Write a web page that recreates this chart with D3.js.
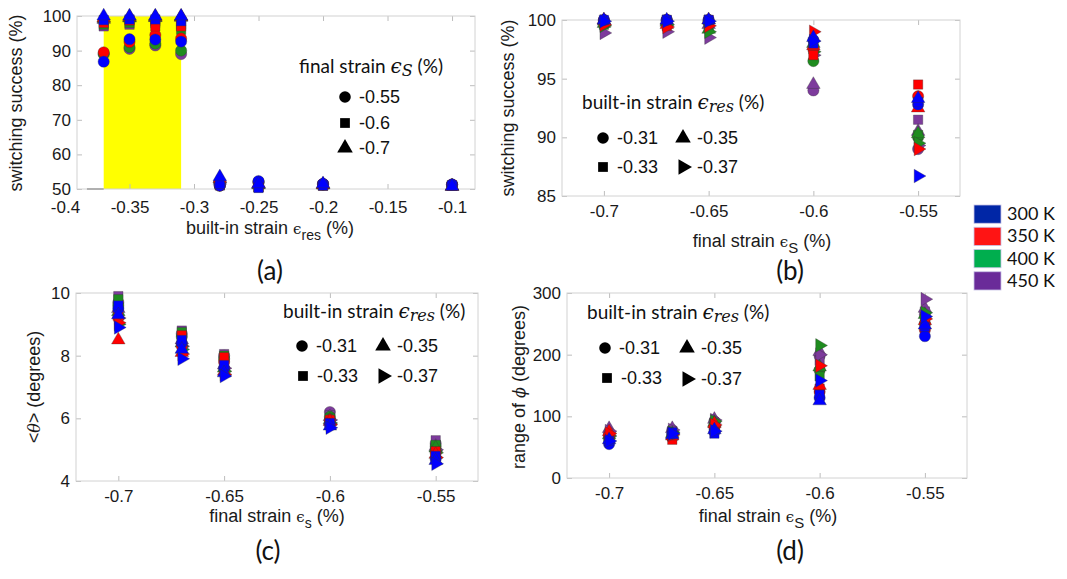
<!DOCTYPE html>
<html>
<head>
<meta charset="utf-8">
<script src="https://cdn.jsdelivr.net/npm/d3@7"></script>
<style>
  body { margin: 0; background: #fff; }
  svg { display: block; }
</style>
</head>
<body>
<div class="figure"></div>
<script>
// temperatures (colour) — drawn 450 K first so 300 K ends up on top
const tempLabels = ["300 K", "350 K", "400 K", "450 K"];
const tempColors = ["#0000ff", "#ff0000", "#1f8c1f", "#7d3b9c"];
const swatchColors = ["#0026a6", "#ff1414", "#00ae4e", "#6a2b99"];

// panel (a): x = built-in strain, one marker shape per final strain
const aBuiltIn = [-0.37, -0.35, -0.33, -0.31, -0.28, -0.25, -0.2, -0.1];
const aFinalLabels = ["-0.55", "-0.6", "-0.7"];
const aWindow = [-0.37, -0.31];
const aBaseLine = [-0.383, -0.37];
// rows: 300, 350, 400, 450 K
const aCircle = [
  [86.8, 93.3, 93.2, 92.6, 51.0, 52.3, 51.5, 51.3],
  [89.5, 92.5, 94.5, 93.5, 51.0, 52.0, 51.5, 51.3],
  [89.0, 91.0, 92.0, 90.0, 51.0, 52.0, 51.3, 51.2],
  [89.0, 90.5, 91.5, 89.0, 51.0, 52.0, 51.3, 51.2]
];
const aSquare = [
  [98.8, 99.0, 99.0, 98.5, 51.5, 50.3, 51.0, 51.0],
  [98.0, 98.7, 97.0, 97.0, 51.3, 50.5, 51.0, 51.0],
  [97.5, 98.0, 98.0, 96.0, 51.2, 50.5, 51.0, 51.0],
  [97.0, 97.5, 98.5, 97.5, 51.0, 50.5, 51.0, 51.0]
];
const aTriangle = [
  [100, 100, 100, 100, 53.5, 51.5, 51.5, 50.8],
  [99.5, 99.8, 99.8, 99.8, 53.0, 51.5, 51.3, 50.8],
  [99.3, 99.5, 99.6, 99.7, 53.0, 51.3, 51.2, 50.8],
  [99.0, 99.4, 99.5, 99.6, 52.5, 51.2, 51.2, 50.7]
];

// panels (b)-(d): x = final strain, one marker shape per built-in strain
const finalStrains = [-0.7, -0.67, -0.65, -0.6, -0.55];
const builtInLabels = ["-0.31", "-0.33", "-0.35", "-0.37"];

// (b) switching success (%)
const bCircle = [
  [100, 100, 100, 98.3, 92.8],
  [100, 100, 100, 97.5, 93.5],
  [99.8, 99.9, 99.8, 96.5, 90.0],
  [99.9, 100, 99.9, 94.0, 89.0]
];
const bSquare = [
  [100, 100, 100, 98.0, 93.0],
  [99.8, 99.5, 100, 97.0, 94.5],
  [99.6, 99.8, 99.5, 97.5, 90.2],
  [99.8, 100, 99.8, 97.8, 91.5]
];
const bTriangle = [
  [100, 100, 100, 98.5, 93.3],
  [100, 99.6, 100, 97.8, 92.5],
  [99.7, 99.8, 99.2, 98.0, 90.3],
  [99.9, 99.9, 99.6, 94.5, 90.5]
];
const bRight = [
  [99.9, 99.9, 99.9, 98.2, 86.7],
  [99.6, 99.4, 99.5, 99.0, 89.0],
  [99.5, 99.6, 99.0, 97.3, 89.5],
  [98.9, 99.0, 98.5, 97.0, 89.3]
];

// (c) <theta> (degrees)
const cCircle = [
  [9.5, 8.4, 7.6, 5.8, 4.7],
  [9.2, 8.3, 7.8, 5.95, 4.9],
  [9.6, 8.6, 7.9, 6.05, 5.1],
  [9.7, 8.7, 8.0, 6.2, 5.2]
];
const cSquare = [
  [9.6, 8.5, 7.7, 5.85, 4.8],
  [9.4, 8.65, 7.95, 5.95, 4.95],
  [9.8, 8.75, 8.0, 6.0, 5.15],
  [9.9, 8.8, 8.05, 6.1, 5.3]
];
const cTriangle = [
  [9.3, 8.2, 7.45, 5.75, 4.65],
  [8.5, 8.1, 7.5, 5.9, 4.85],
  [9.4, 8.4, 7.6, 5.95, 5.05],
  [9.5, 8.5, 7.7, 6.05, 5.1]
];
const cRight = [
  [8.9, 7.9, 7.35, 5.7, 4.55],
  [9.05, 8.05, 7.4, 5.8, 4.75],
  [9.0, 8.2, 7.5, 5.85, 4.9],
  [9.2, 8.3, 7.6, 5.95, 5.0]
];

// (d) range of phi (degrees)
const dCircle = [
  [55, 72, 75, 130, 230],
  [68, 65, 82, 140, 240],
  [62, 70, 85, 175, 250],
  [72, 78, 92, 198, 265]
];
const dSquare = [
  [60, 74, 72, 135, 245],
  [62, 62, 80, 145, 248],
  [65, 68, 88, 165, 258],
  [70, 76, 90, 190, 270]
];
const dTriangle = [
  [62, 70, 78, 125, 248],
  [75, 68, 88, 150, 255],
  [70, 72, 90, 180, 265],
  [80, 80, 95, 205, 275]
];
const dRight = [
  [60, 72, 76, 158, 262],
  [72, 70, 86, 182, 258],
  [68, 74, 92, 215, 268],
  [76, 78, 94, 200, 290]
];

const aTicksX = [-0.4, -0.35, -0.3, -0.25, -0.2, -0.15, -0.1];
const aTicksY = [50, 60, 70, 80, 90, 100];
const finalTicks = [-0.7, -0.65, -0.6, -0.55];
const bTicksY = [85, 90, 95, 100];
const cTicksY = [4, 6, 8, 10];
const dTicksY = [0, 100, 200, 300];

const sansFont = "'Liberation Sans', Arial, sans-serif";
const calFont = "Lato, 'Open Sans', sans-serif";
const mathFont = "'DejaVu Serif', 'Liberation Serif', serif";
const boxColor = "#d2d2d2";

const svg = d3.select(".figure").append("svg")
    .attr("width", 1067)
    .attr("height", 579);

const symbolPath = {
  circle: d3.symbol(d3.symbolCircle, 100)(),
  square: d3.symbol(d3.symbolSquare, 88)(),
  triangle: d3.symbol(d3.symbolTriangle, 80)(),
  right: d3.symbol(d3.symbolTriangle, 80)()
};
const rot = shape => shape === "right" ? " rotate(90)" : "";

function makePanel(p) {
  const x = d3.scaleLinear().domain(p.xDomain).range([p.left, p.right]);
  const y = d3.scaleLinear().domain(p.yDomain).range([p.bottom, p.top]);
  const g = svg.append("g");
  const back = g.append("g");
  const inside = v => x(v) >= p.left - 0.5 && x(v) <= p.right + 0.5;

  const styleAxis = sel => {
    sel.select(".domain").remove();
    sel.selectAll(".tick line").attr("stroke", "#bdbdbd");
    sel.selectAll("text")
        .attr("font-family", sansFont)
        .attr("font-size", 17)
        .attr("fill", "#1a1a1a");
  };
  const hideOutside = sel => sel.selectAll(".tick line")
      .attr("stroke-opacity", d => inside(d) ? 1 : 0);

  g.append("g")
      .attr("transform", `translate(0,${p.bottom})`)
      .call(d3.axisBottom(x).tickValues(p.xTicks).tickSize(-5).tickPadding(p.xPad || 9)
          .tickFormat(d => String(d)))
      .call(styleAxis)
      .call(hideOutside);
  g.append("g")
      .attr("transform", `translate(0,${p.top})`)
      .call(d3.axisTop(x).tickValues(p.xTicks).tickSize(-5).tickFormat(""))
      .call(styleAxis)
      .call(hideOutside);
  g.append("g")
      .attr("transform", `translate(${p.left},0)`)
      .call(d3.axisLeft(y).tickValues(p.yTicks).tickSize(-5).tickPadding(6)
          .tickFormat(d => String(d)))
      .call(styleAxis);
  g.append("g")
      .attr("transform", `translate(${p.right},0)`)
      .call(d3.axisRight(y).tickValues(p.yTicks).tickSize(-5).tickFormat(""))
      .call(styleAxis);

  g.append("rect")
      .attr("x", p.left).attr("y", p.top)
      .attr("width", p.right - p.left).attr("height", p.bottom - p.top)
      .attr("fill", "none")
      .attr("stroke", boxColor);

  const marks = g.append("g");
  return { g, back, marks, x, y };
}

// series: {shape, rows}; rows indexed by temperature
function plotPoints(panel, xs, series) {
  const pts = [];
  [3, 2, 1, 0].forEach(t => {
    series.forEach(s => {
      s.rows[t].forEach((v, i) => pts.push({ x: xs[i], v, t, shape: s.shape }));
    });
  });
  panel.marks.selectAll("path.pt")
      .data(pts).enter()
      .append("path")
      .attr("class", "pt")
      .attr("d", d => symbolPath[d.shape])
      .attr("transform", d => `translate(${panel.x(d.x)},${panel.y(d.v)})${rot(d.shape)}`)
      .attr("fill", d => tempColors[d.t])
      .attr("stroke", "#333")
      .attr("stroke-opacity", 0.55)
      .attr("stroke-width", 0.6);
}

// label helpers
function axisLabel(x, y, parts, rotate) {
  const t = svg.append("text")
      .attr("transform", `translate(${x},${y})${rotate ? " rotate(-90)" : ""}`)
      .attr("text-anchor", "middle")
      .attr("font-family", sansFont)
      .attr("font-size", 18)
      .attr("fill", "#1a1a1a");
  parts.forEach(pt => {
    const s = t.append("tspan").text(pt.text);
    if (pt.font) s.attr("font-family", pt.font);
    if (pt.size) s.attr("font-size", pt.size);
    if (pt.dy) s.attr("dy", pt.dy);
    if (pt.italic) s.attr("font-style", "italic");
  });
  return t;
}

function legendTitle(x, y, sub) {
  const t = svg.append("text")
      .attr("x", x).attr("y", y)
      .attr("font-family", calFont)
      .attr("font-size", 19)
      .attr("fill", "#111");
  t.append("tspan").text(sub.lead);
  t.append("tspan").text("\u03F5").attr("font-family", mathFont).attr("font-style", "italic")
      .attr("font-size", 20);
  t.append("tspan").text(sub.text).attr("font-family", mathFont).attr("font-style", "italic")
      .attr("font-size", 16).attr("dy", 3);
  t.append("tspan").text(" (%)").attr("dy", -3);
}

function shapeLegend(entries) {
  entries.forEach(e => {
    svg.append("path")
        .attr("d", d3.symbol(e.shape === "circle" ? d3.symbolCircle :
            e.shape === "square" ? d3.symbolSquare : d3.symbolTriangle, e.shape === "square" ? 95 : 105)())
        .attr("transform", `translate(${e.x},${e.y})${rot(e.shape)}`)
        .attr("fill", "#000");
    svg.append("text")
        .attr("x", e.x + 14).attr("y", e.y + 6)
        .attr("font-family", sansFont)
        .attr("font-size", 18)
        .attr("fill", "#111")
        .text(e.label);
  });
}

function panelTag(x, y, s) {
  svg.append("text")
      .attr("x", x).attr("y", y)
      .attr("text-anchor", "middle")
      .attr("font-family", calFont)
      .attr("font-size", 26)
      .attr("fill", "#111")
      .text(s);
}

// ---------- (a)
const pa = makePanel({
  left: 77, right: 475, top: 16, bottom: 189,
  xDomain: [-0.3907, -0.0822], yDomain: [50, 100],
  xTicks: aTicksX, yTicks: aTicksY, xPad: 12
});
pa.back.append("rect")
    .attr("x", pa.x(aWindow[0]))
    .attr("y", pa.y(100))
    .attr("width", pa.x(aWindow[1]) - pa.x(aWindow[0]))
    .attr("height", pa.y(50) - pa.y(100))
    .attr("fill", "#ffff00");
pa.back.append("line")
    .attr("x1", pa.x(aBaseLine[0])).attr("x2", pa.x(aBaseLine[1]))
    .attr("y1", pa.y(50)).attr("y2", pa.y(50))
    .attr("stroke", "#444").attr("stroke-width", 1.2);
plotPoints(pa, aBuiltIn, [
  { shape: "circle", rows: aCircle },
  { shape: "square", rows: aSquare },
  { shape: "triangle", rows: aTriangle }
]);
axisLabel(22, 103, [{ text: "switching success (%)" }], true);
axisLabel(270, 234, [
  { text: "built-in strain " },
  { text: "\u03F5", font: mathFont, size: 15 },
  { text: "res", size: 14, dy: 6 },
  { text: " (%)", dy: -6 }
]);
legendTitle(299, 73, { lead: "final strain ", text: "S" });
shapeLegend([
  { shape: "circle", x: 345, y: 97, label: aFinalLabels[0] },
  { shape: "square", x: 345, y: 123, label: aFinalLabels[1] },
  { shape: "triangle", x: 345, y: 148, label: aFinalLabels[2] }
]);
panelTag(270, 280, "(a)");

// ---------- (b)
const pb = makePanel({
  left: 562, right: 960, top: 20, bottom: 196,
  xDomain: [-0.72, -0.53], yDomain: [85, 100],
  xTicks: finalTicks, yTicks: bTicksY
});
plotPoints(pb, finalStrains, [
  { shape: "circle", rows: bCircle },
  { shape: "square", rows: bSquare },
  { shape: "triangle", rows: bTriangle },
  { shape: "right", rows: bRight }
]);
axisLabel(514, 108, [{ text: "switching success (%)" }], true);
axisLabel(762, 247, [
  { text: "final strain " },
  { text: "\u03F5", font: mathFont, size: 15 },
  { text: "S", size: 15, dy: 6 },
  { text: " (%)", dy: -6 }
]);
legendTitle(582, 109, { lead: "built-in strain ", text: "res" });
shapeLegend([
  { shape: "circle", x: 603, y: 138, label: builtInLabels[0] },
  { shape: "triangle", x: 683, y: 138, label: builtInLabels[2] },
  { shape: "square", x: 603, y: 167, label: builtInLabels[1] },
  { shape: "right", x: 683, y: 167, label: builtInLabels[3] }
]);
panelTag(790, 280, "(b)");

// ---------- temperature legend
const swatchY = d3.scaleBand().domain(tempLabels).range([205, 290]).paddingInner(0.18);
const tl = svg.append("g");
tl.selectAll("rect")
    .data(tempLabels).enter()
    .append("rect")
    .attr("x", 974)
    .attr("y", d => swatchY(d))
    .attr("width", 27)
    .attr("height", swatchY.bandwidth())
    .attr("fill", (d, i) => swatchColors[i])
    .attr("stroke", "#c9c3e6")
    .attr("stroke-width", 0.8);
tl.selectAll("text")
    .data(tempLabels).enter()
    .append("text")
    .attr("x", 1007)
    .attr("y", d => swatchY(d) + swatchY.bandwidth() / 2 + 6)
    .attr("font-family", calFont)
    .attr("font-size", 18)
    .attr("fill", "#111")
    .text(d => d);

// ---------- (c)
const pc = makePanel({
  left: 76, right: 478, top: 293, bottom: 481,
  xDomain: [-0.72, -0.53], yDomain: [4, 10],
  xTicks: finalTicks, yTicks: cTicksY
});
plotPoints(pc, finalStrains, [
  { shape: "circle", rows: cCircle },
  { shape: "square", rows: cSquare },
  { shape: "triangle", rows: cTriangle },
  { shape: "right", rows: cRight }
]);
axisLabel(40, 387, [
  { text: "<" },
  { text: "\u03B8", font: mathFont, size: 16, italic: true },
  { text: "> (degrees)" }
], true);
axisLabel(277, 522, [
  { text: "final strain " },
  { text: "\u03F5", font: mathFont, size: 15 },
  { text: "s", size: 14, dy: 6 },
  { text: " (%)", dy: -6 }
]);
legendTitle(283, 318, { lead: "built-in strain ", text: "res" });
shapeLegend([
  { shape: "circle", x: 302, y: 346, label: builtInLabels[0] },
  { shape: "triangle", x: 383, y: 346, label: builtInLabels[2] },
  { shape: "square", x: 303, y: 376, label: builtInLabels[1] },
  { shape: "right", x: 383, y: 376, label: builtInLabels[3] }
]);
panelTag(268, 560, "(c)");

// ---------- (d)
const pd = makePanel({
  left: 567, right: 967, top: 293, bottom: 478,
  xDomain: [-0.72, -0.53], yDomain: [0, 300],
  xTicks: finalTicks, yTicks: dTicksY
});
plotPoints(pd, finalStrains, [
  { shape: "circle", rows: dCircle },
  { shape: "square", rows: dSquare },
  { shape: "triangle", rows: dTriangle },
  { shape: "right", rows: dRight }
]);
axisLabel(525, 387, [
  { text: "range of " },
  { text: "\u03D5", font: mathFont, size: 16, italic: true },
  { text: " (degrees)" }
], true);
axisLabel(768, 522, [
  { text: "final strain " },
  { text: "\u03F5", font: mathFont, size: 15 },
  { text: "S", size: 15, dy: 6 },
  { text: " (%)", dy: -6 }
]);
legendTitle(587, 319, { lead: "built-in strain ", text: "res" });
shapeLegend([
  { shape: "circle", x: 605, y: 348, label: builtInLabels[0] },
  { shape: "triangle", x: 687, y: 348, label: builtInLabels[2] },
  { shape: "square", x: 607, y: 378, label: builtInLabels[1] },
  { shape: "right", x: 687, y: 379, label: builtInLabels[3] }
]);
panelTag(790, 560, "(d)");
</script>
</body>
</html>
